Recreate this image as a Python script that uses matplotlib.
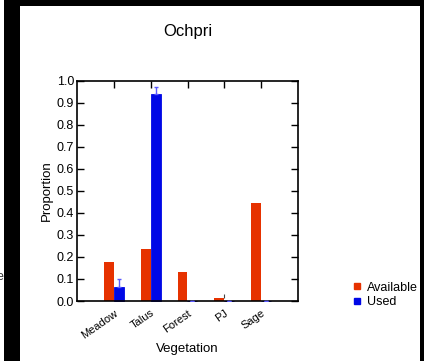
from matplotlib import pyplot as plt
from matplotlib.patches import Rectangle
from matplotlib.lines import Line2D
import numpy as np

plt.rcParams['font.family'] = ['Liberation Sans', 'DejaVu Sans']

categories = ['Meadow', 'Talus', 'Forest', 'PJ', 'Sage']
available = [0.177, 0.234, 0.131, 0.014, 0.446]
used = [0.064, 0.937, 0.0, 0.0, 0.0]
used_err = [0.034, 0.035, 0.0, 0.0, 0.0]
pj_err = [0.014, 0.030]  # small grey mark above PJ
y_ticks = [0.0, 0.1, 0.2, 0.3, 0.4, 0.5, 0.6, 0.7, 0.8, 0.9, 1.0]

red = '#e63200'
blue = '#0008e6'

W, H = 424, 361
fig = plt.figure(figsize=(W / 100, H / 100), dpi=100)
fig.patch.set_facecolor('white')

# black frame around the white panel
fig.patches.append(Rectangle((4 / W, 0), 1 - 4 / W, 1, transform=fig.transFigure,
                             facecolor='black', edgecolor='none', zorder=-2))
fig.patches.append(Rectangle((20 / W, 0), 400 / W, (H - 6) / H, transform=fig.transFigure,
                             facecolor='white', edgecolor='none', zorder=-1))
fig.text(3 / W, 1 - 277 / H, 'e', ha='right', va='center', fontsize=9, color='#333333')

ax = fig.add_axes([77 / W, 60 / H, 221 / W, 220.5 / H])
ax.set_facecolor('none')

x = np.arange(len(categories))
bw = 0.27
ax.bar(x - bw / 2, available, bw, color=red, zorder=2)
ax.bar(x + bw / 2, used, bw, color=blue, edgecolor=blue, linewidth=0.6, zorder=2, clip_on=False)
ax.errorbar(x + bw / 2, used, yerr=[np.zeros(5), used_err], fmt='none', ecolor='#5a5aff',
            elinewidth=1, capsize=1.6, capthick=1, zorder=3)
ax.vlines(3, pj_err[0], pj_err[1], color='#444444', linewidth=0.8, zorder=3)

ax.set_xlim(-1, 5)
ax.set_ylim(0, 1.0)
ax.set_yticks(y_ticks)
ax.set_yticklabels(['%.1f' % v for v in y_ticks])
ax.set_xticks(x)
ax.set_xticklabels(categories, rotation=35, ha='right', rotation_mode='anchor', fontsize=8)
ax.tick_params(axis='y', direction='in', length=5, width=1, right=True, labelsize=9, pad=2)
ax.tick_params(axis='x', direction='in', length=5, width=1, top=True, bottom=False, pad=5)
for s in ax.spines.values():
    s.set_linewidth(1.2)

ax.set_title('Ochpri', fontsize=12, pad=32)
ax.set_xlabel('Vegetation', fontsize=9.5, labelpad=2)
ax.set_ylabel('Proportion', fontsize=9.5, labelpad=3)

handles = [Line2D([], [], marker='s', linestyle='none', color=red, markersize=5),
           Line2D([], [], marker='s', linestyle='none', color=blue, markersize=5)]
fig.legend(handles, ['Available', 'Used'], loc='center left',
           bbox_to_anchor=(346 / W, 1 - 295 / H), frameon=False, fontsize=9,
           handlelength=0.8, handletextpad=0.4, labelspacing=0.2, borderpad=0)

fig.savefig('out.png', dpi=100)
